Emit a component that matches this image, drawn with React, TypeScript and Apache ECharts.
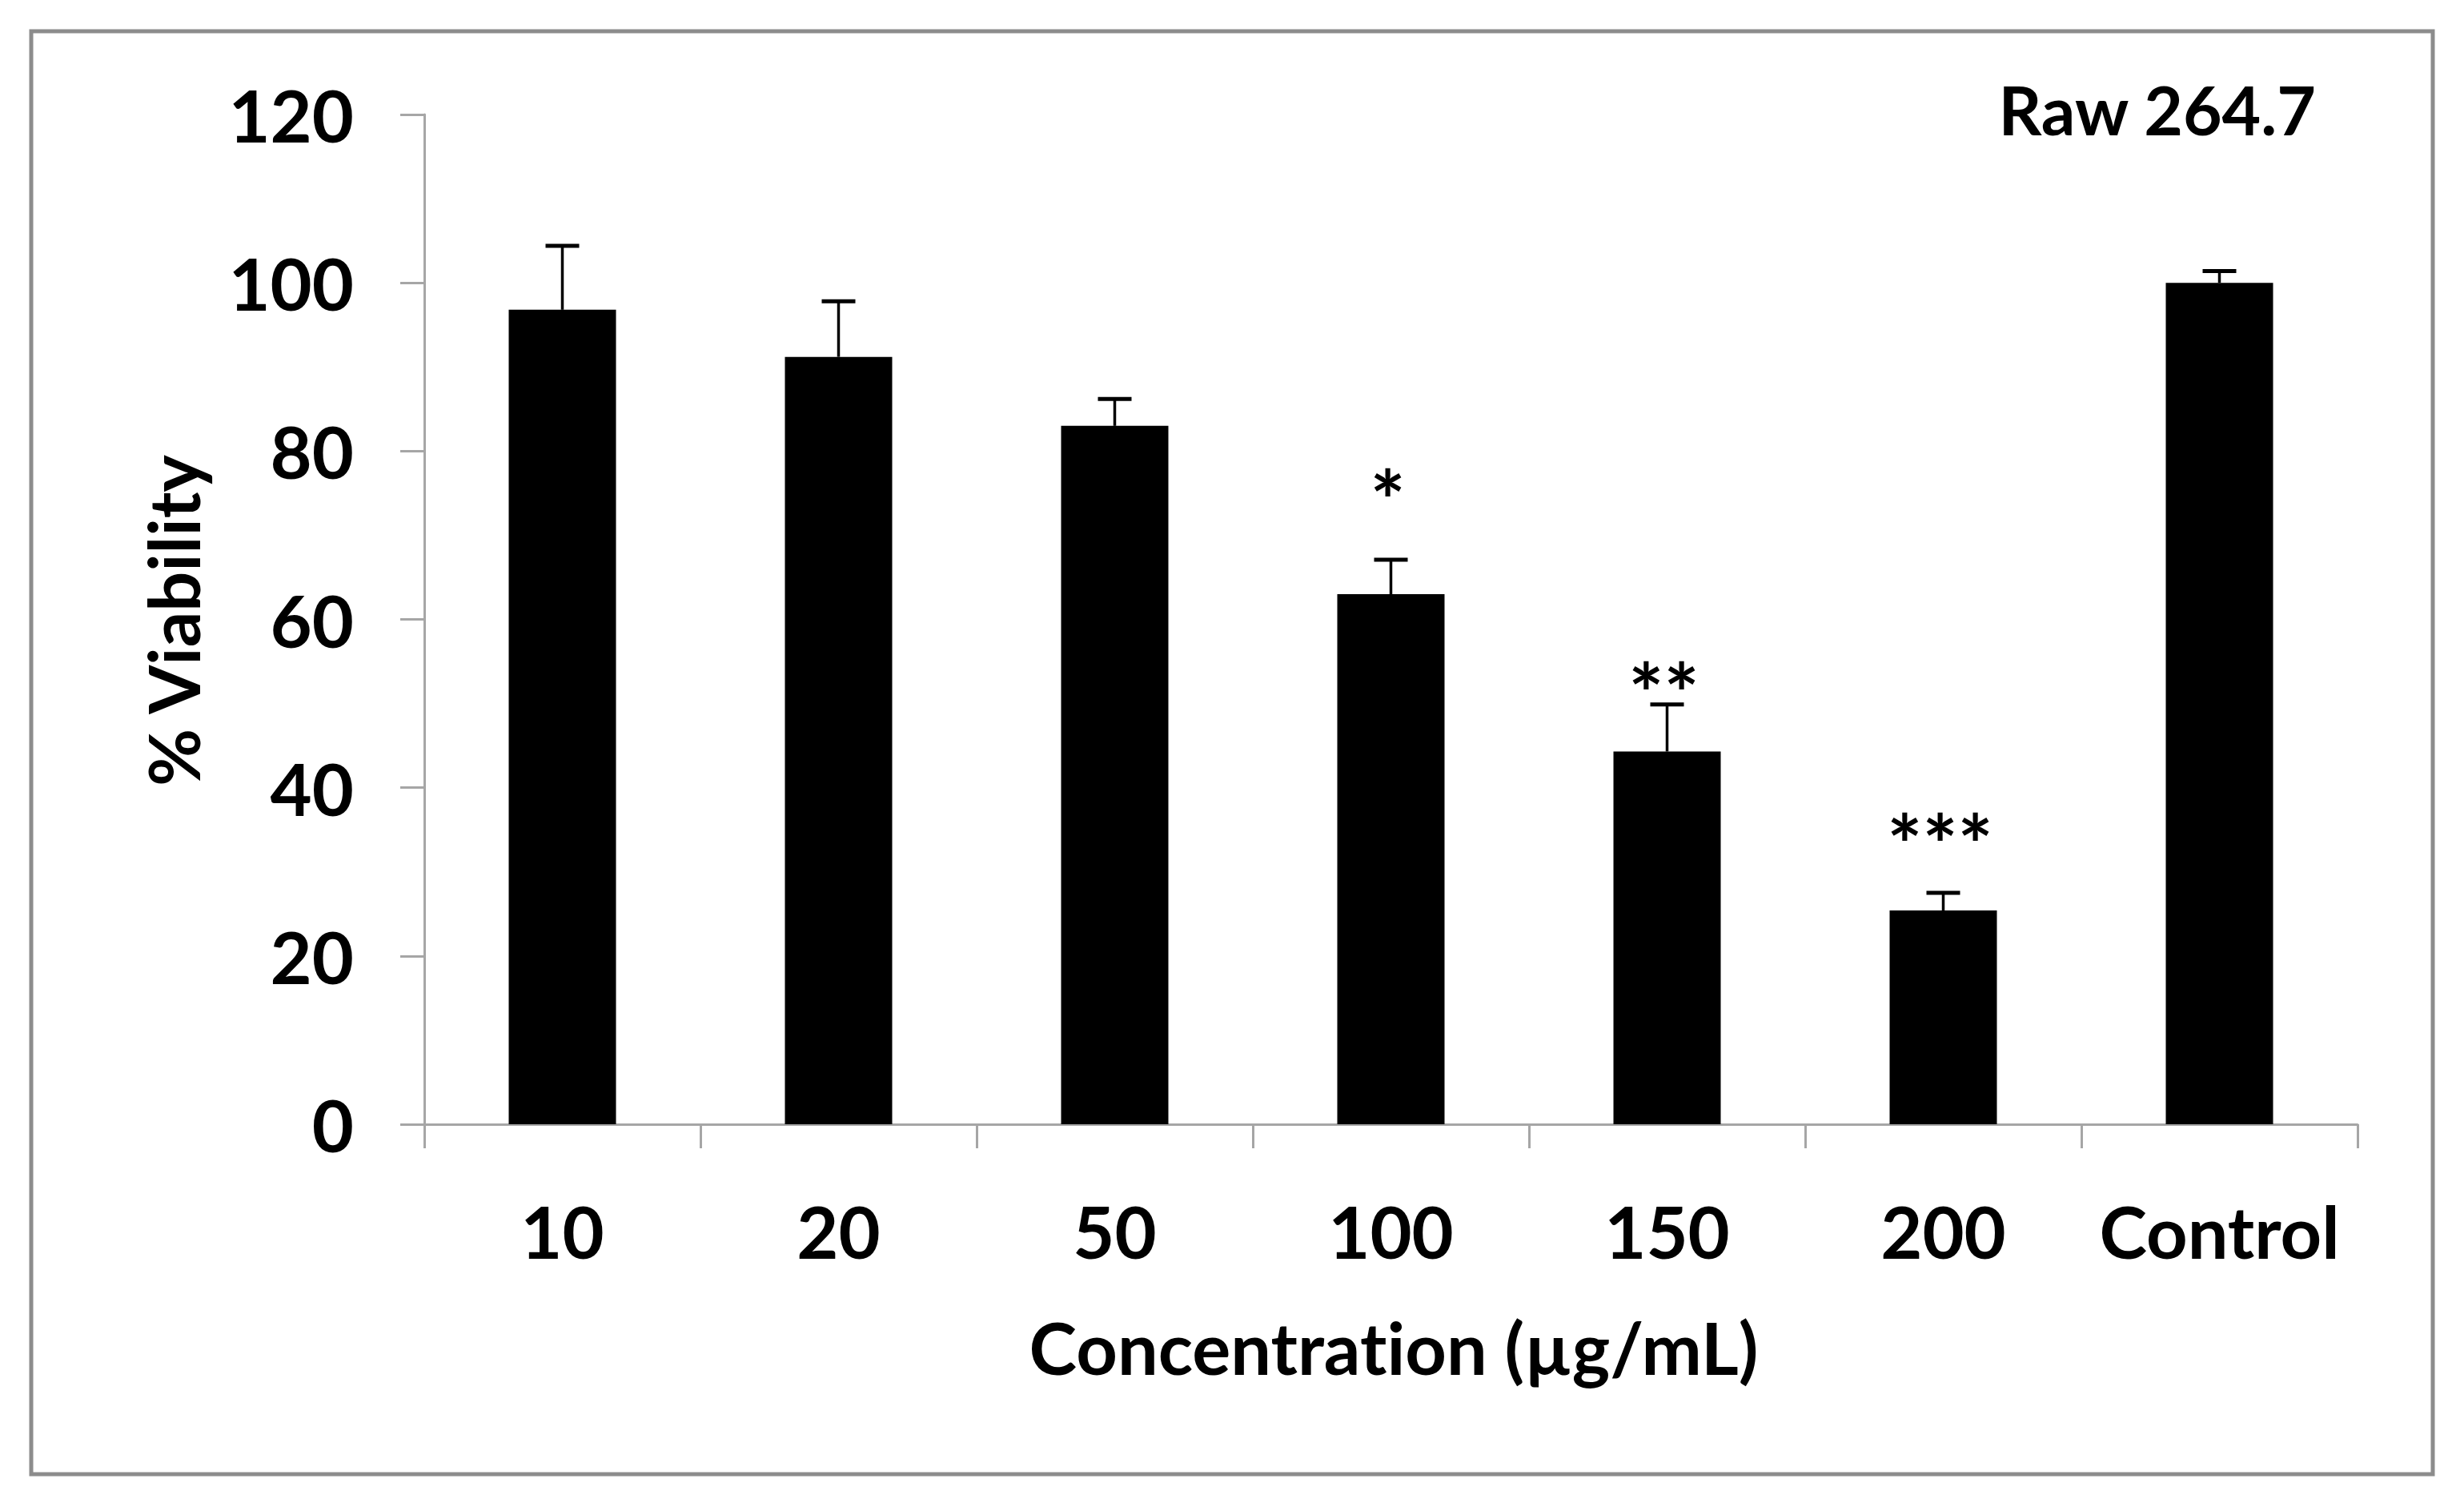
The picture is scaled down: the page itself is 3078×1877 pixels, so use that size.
import React, { useEffect, useRef } from "react";
import * as echarts from "echarts";

const categories = ["10", "20", "50", "100", "150", "200", "Control"];
const viability = [96.8, 91.2, 83.0, 63.0, 44.3, 25.4, 100.0];
const errors = [7.6, 6.6, 3.2, 4.1, 5.6, 2.1, 1.4];
const significance = ["", "", "", "*", "**", "***", ""];
const starLevels = [0, 0, 0, 76.5, 53.5, 35.5, 0];
const yMin = 0;
const yMax = 120;
const yInterval = 20;
const xTitle = "Concentration (µg/mL)";
const yTitle = "% Viability";
const cellLine = "Raw 264.7";

const FONT = "Lato, 'Open Sans', sans-serif";
const AXIS_GRAY = "#a6a6a6";

export default function App() {
  const ref = useRef<HTMLDivElement>(null);

  useEffect(() => {
    document.body.style.margin = "0";
    const styleEl = document.createElement("style");
    styleEl.textContent =
      "svg text, svg tspan { font-variant-ligatures: none !important; font-feature-settings: 'liga' 0, 'clig' 0 !important; }";
    document.head.appendChild(styleEl);
    if (!ref.current) return;
    const chart = echarts.init(ref.current, undefined, { renderer: "svg" });

    const errData = categories.map((_, i) => [i, viability[i], errors[i]]);
    const starData = categories.map((_, i) => [i, starLevels[i]]);

    chart.setOption({
      animation: false,
      backgroundColor: "#ffffff",
      grid: { left: 530, right: 133, top: 143, bottom: 473, containLabel: false },
      xAxis: {
        type: "category",
        data: categories,
        boundaryGap: true,
        axisLine: { show: true, lineStyle: { color: AXIS_GRAY, width: 3 } },
        axisTick: { show: true, length: 30, interval: 0, lineStyle: { color: AXIS_GRAY, width: 3 } },
        axisLabel: {
          interval: 0,
          margin: 88,
          color: "#000",
          fontSize: 90,
          fontWeight: "bold",
          fontFamily: FONT,
        },
        splitLine: { show: false },
      },
      yAxis: {
        type: "value",
        min: yMin,
        max: yMax,
        interval: yInterval,
        axisLine: { show: true, lineStyle: { color: AXIS_GRAY, width: 3 } },
        axisTick: { show: true, length: 30, lineStyle: { color: AXIS_GRAY, width: 3 } },
        axisLabel: {
          margin: 88,
          color: "#000",
          fontSize: 90,
          fontWeight: "bold",
          fontFamily: FONT,
        },
        splitLine: { show: false },
      },
      series: [
        {
          type: "bar",
          data: viability,
          barWidth: 134,
          itemStyle: { color: "#000000" },
          z: 2,
        },
        {
          type: "custom",
          data: errData,
          encode: { x: 0, y: 1 },
          z: 3,
          renderItem: (params: any, api: any) => {
            const x = api.value(0);
            const y = api.value(1);
            const e = api.value(2);
            const base = api.coord([x, y]);
            const top = api.coord([x, y + e]);
            const cap = 21;
            return {
              type: "group",
              children: [
                {
                  type: "line",
                  shape: { x1: top[0], y1: base[1], x2: top[0], y2: top[1] },
                  style: { stroke: "#000", lineWidth: 3.5 },
                },
                {
                  type: "line",
                  shape: { x1: top[0] - cap, y1: top[1], x2: top[0] + cap, y2: top[1] },
                  style: { stroke: "#000", lineWidth: 5 },
                },
              ],
            };
          },
        },
        {
          type: "custom",
          data: starData,
          encode: { x: 0, y: 1 },
          z: 4,
          renderItem: (params: any, api: any) => {
            const label = significance[params.dataIndex];
            if (!label) return null;
            const p = api.coord([api.value(0), api.value(1)]);
            return {
              type: "text",
              x: p[0] - 4,
              y: p[1] + 22,
              style: {
                text: label,
                fill: "#000",
                font: `bold 104px ${FONT}`,
                align: "center",
                verticalAlign: "middle",
              },
            };
          },
        },
      ],
      graphic: [
        {
          type: "rect",
          shape: { x: 39, y: 39, width: 3000, height: 1802 },
          style: { fill: "none", stroke: "#8c8c8c", lineWidth: 5 },
          z: 0,
        },
        {
          type: "text",
          x: 2893,
          y: 136,
          style: {
            text: cellLine,
            fill: "#000",
            font: `bold 84px ${FONT}`,
            align: "right",
            verticalAlign: "middle",
          },
        },
        {
          type: "text",
          x: 1741,
          y: 1682,
          style: {
            text: xTitle,
            fill: "#000",
            font: `bold 90px ${FONT}`,
            align: "center",
            verticalAlign: "middle",
          },
        },
        {
          type: "text",
          x: 216,
          y: 775,
          rotation: Math.PI / 2,
          style: {
            text: yTitle,
            fill: "#000",
            font: `bold 88px ${FONT}`,
            align: "center",
            verticalAlign: "middle",
          },
        },
      ],
    });

    return () => {
      chart.dispose();
      styleEl.remove();
    };
  }, []);

  return <div ref={ref} style={{ width: 3078, height: 1877 }} />;
}
